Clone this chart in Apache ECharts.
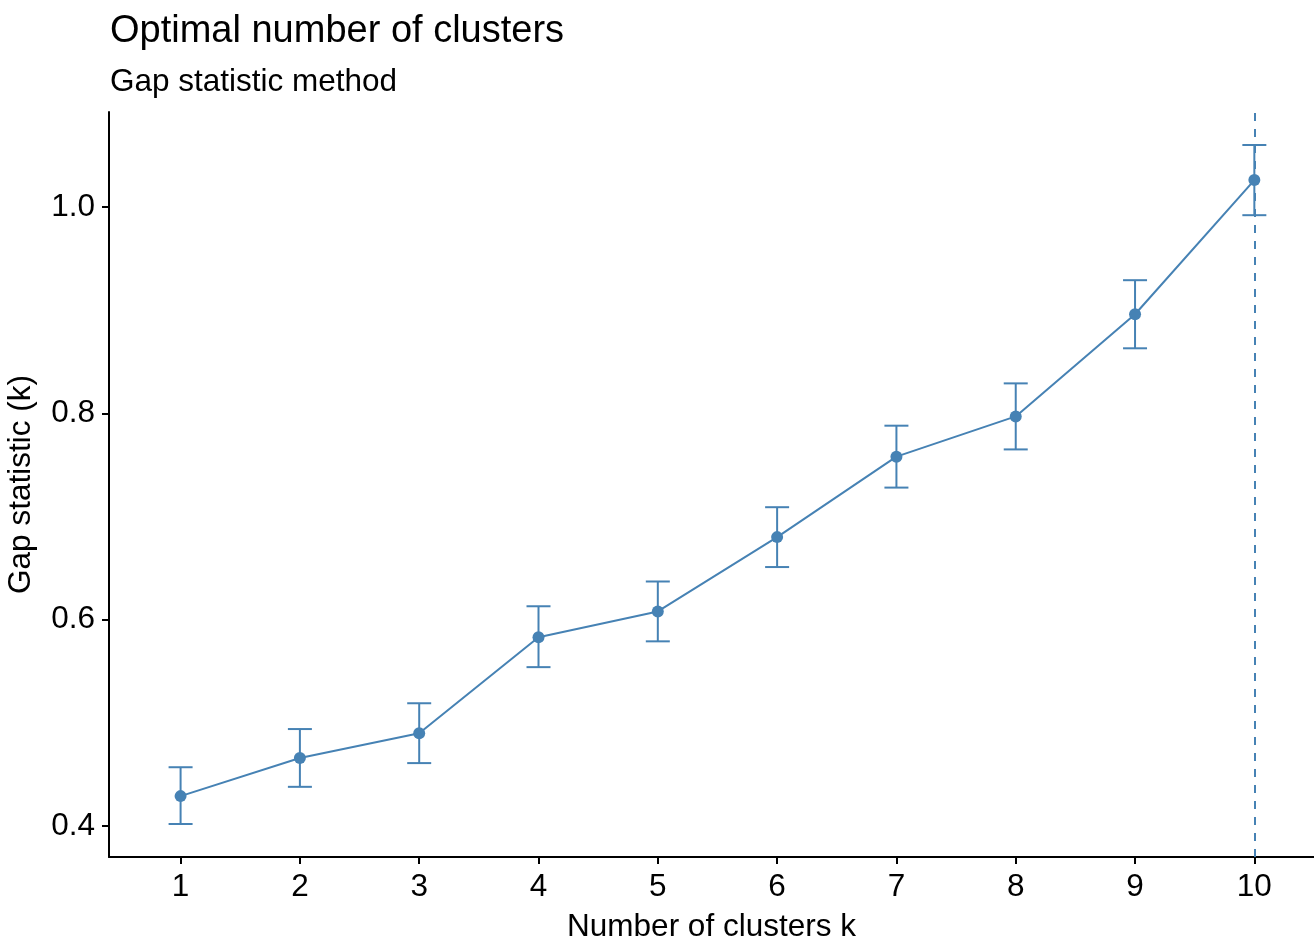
<!DOCTYPE html>
<html>
<head>
<meta charset="utf-8">
<script src="https://cdn.jsdelivr.net/npm/echarts@6/dist/echarts.min.js"></script>
<style>html,body{margin:0;padding:0;background:#fff}#c{width:1314px;height:939px}</style>
</head>
<body>
<div id="c"></div>
<script>
var clusters = [1, 2, 3, 4, 5, 6, 7, 8, 9, 10];
var gap = [0.429, 0.466, 0.490, 0.583, 0.608, 0.680, 0.758, 0.797, 0.896, 1.026];
var gapLow = [0.402, 0.438, 0.461, 0.554, 0.579, 0.651, 0.728, 0.765, 0.863, 0.992];
var gapHigh = [0.457, 0.494, 0.519, 0.613, 0.637, 0.709, 0.788, 0.829, 0.929, 1.060];
var yTicks = [0.4, 0.6, 0.8, 1.0];
var optimalK = 10;

var color = '#4682B4';
var font = 'Liberation Sans, Arial, sans-serif';
var chart = echarts.init(document.getElementById('c'));

var lineData = clusters.map(function (k, i) { return [k, gap[i]]; });
var errData = clusters.map(function (k, i) { return [k, gapLow[i], gapHigh[i]]; });

chart.setOption({
  animation: false,
  backgroundColor: '#fff',
  title: [
    { text: 'Optimal number of clusters', left: 105, top: 8,
      textStyle: { fontFamily: font, fontSize: 38, fontWeight: 'normal', color: '#000' } },
    { text: 'Gap statistic method', left: 105, top: 61,
      textStyle: { fontFamily: font, fontSize: 31.5, fontWeight: 'normal', color: '#000' } }
  ],
  grid: { left: 109, top: 112, right: 0, bottom: 82, containLabel: false, outerBoundsMode: 'none' },
  xAxis: {
    type: 'value', min: 0.4, max: 10.5,
    name: 'Number of clusters k', nameLocation: 'middle', nameGap: 54,
    nameTextStyle: { fontFamily: font, fontSize: 31.5, color: '#000' },
    axisLine: { show: true, onZero: false, lineStyle: { color: '#000', width: 2 } },
    axisTick: { show: true, length: 7, lineStyle: { color: '#000', width: 2 }, customValues: clusters },
    axisLabel: { fontFamily: font, fontSize: 31.5, color: '#000', margin: 14, customValues: clusters },
    splitLine: { show: false }
  },
  yAxis: {
    type: 'value', min: 0.37, max: 1.092,
    name: 'Gap statistic (k)', nameLocation: 'middle', nameGap: 72, nameRotate: 90,
    nameTextStyle: { fontFamily: font, fontSize: 31.5, color: '#000' },
    axisLine: { show: true, onZero: false, lineStyle: { color: '#000', width: 2 } },
    axisTick: { show: true, length: 7, lineStyle: { color: '#000', width: 2 }, customValues: yTicks },
    axisLabel: { fontFamily: font, fontSize: 31.5, color: '#000', margin: 14, customValues: yTicks,
      formatter: function (v) { return v.toFixed(1); } },
    splitLine: { show: false }
  },
  series: [
    {
      type: 'custom',
      data: errData,
      z: 2,
      renderItem: function (params, api) {
        var x = api.value(0);
        var lo = api.coord([x, api.value(1)]);
        var hi = api.coord([x, api.value(2)]);
        var hw = 12;
        var st = { stroke: color, lineWidth: 2 };
        return { type: 'group', children: [
          { type: 'line', shape: { x1: lo[0], y1: lo[1], x2: hi[0], y2: hi[1] }, style: st },
          { type: 'line', shape: { x1: lo[0] - hw, y1: lo[1], x2: lo[0] + hw, y2: lo[1] }, style: st },
          { type: 'line', shape: { x1: hi[0] - hw, y1: hi[1], x2: hi[0] + hw, y2: hi[1] }, style: st }
        ]};
      }
    },
    {
      type: 'line',
      data: lineData,
      z: 3,
      symbol: 'circle', symbolSize: 12,
      lineStyle: { color: color, width: 2 },
      itemStyle: { color: color },
      markLine: {
        silent: true, symbol: 'none', label: { show: false },
        lineStyle: { color: color, type: [8, 8], width: 2 },
        data: [{ xAxis: optimalK }]
      }
    }
  ]
});
</script>
</body>
</html>
